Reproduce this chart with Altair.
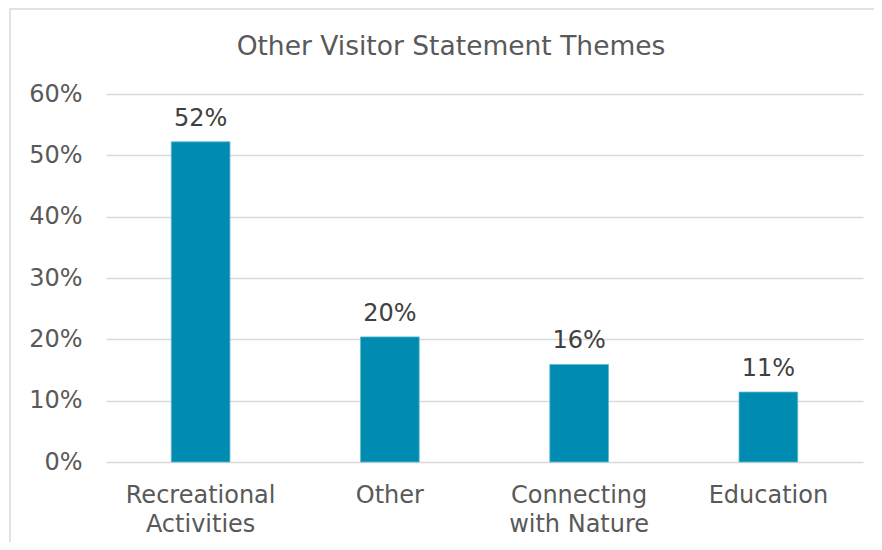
import altair as alt
import pandas as pd

title_text = "Other Visitor Statement Themes"
categories = ["Recreational Activities", "Other", "Connecting with Nature", "Education"]
values = [0.522, 0.204, 0.159, 0.114]
value_labels = ["52%", "20%", "16%", "11%"]
y_ticks = [0, 0.1, 0.2, 0.3, 0.4, 0.5, 0.6]

df = pd.DataFrame({"cat": categories, "val": values, "lbl": value_labels})
single_df = pd.DataFrame({"t": [title_text]})

FONT = "DejaVu Sans"
GRAY = "#595959"

label_expr = (
    "datum.label == 'Recreational Activities' ? ['Recreational', 'Activities'] : "
    "datum.label == 'Connecting with Nature' ? ['Connecting', 'with Nature'] : datum.label"
)

x_enc = alt.X(
    "cat:N",
    sort=categories,
    scale=alt.Scale(paddingInner=0.69, paddingOuter=0.345),
    axis=alt.Axis(
        title=None, labelAngle=0, ticks=False, domain=False,
        labelFont=FONT, labelFontSize=24, labelColor=GRAY,
        labelPadding=21, labelLineHeight=29, labelExpr=label_expr,
    ),
)
y_enc = alt.Y(
    "val:Q",
    scale=alt.Scale(domain=[0, 0.6]),
    axis=alt.Axis(
        title=None, values=y_ticks, format=".0%", ticks=False, domain=False,
        labelFont=FONT, labelFontSize=24, labelColor=GRAY, labelPadding=24,
        gridColor="#d9d9d9", gridWidth=1.5,
    ),
)

bars = alt.Chart(df).mark_bar(color="#008bb0", stroke="#5fb8d2", strokeWidth=0.8).encode(x=x_enc, y=y_enc)
texts = alt.Chart(df).mark_text(
    font=FONT, fontSize=24, color="#404040", baseline="alphabetic", dy=-16
).encode(x=alt.X("cat:N", sort=categories), y="val:Q", text="lbl:N")

frame = alt.Chart(single_df).mark_rect(
    fill="transparent", stroke="#d9d9d9", strokeWidth=1.5
).encode(
    x=alt.value(-96), x2=alt.value(790),
    y=alt.value(-85), y2=alt.value(470),
)

title = alt.Chart(single_df).mark_text(
    font=FONT, fontSize=26.5, color=GRAY, baseline="alphabetic", align="center"
).encode(x=alt.value(345), y=alt.value(-39), text="t:N")

chart = alt.layer(frame, bars, texts, title).properties(
    width=757,
    height=368,
    autosize=alt.AutoSizeParams(type="none"),
    padding={"left": 98, "top": 86, "right": 11, "bottom": 80},
).configure_view(stroke=None)

chart.save("out.html", embed_options={"renderer": "svg", "actions": False})
